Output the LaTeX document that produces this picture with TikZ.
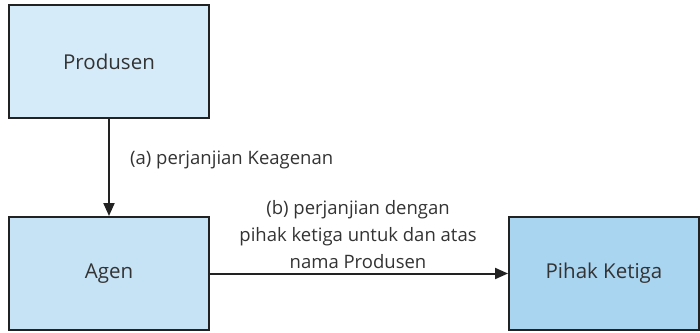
\documentclass[tikz,border=0pt]{standalone}
\usepackage{fontspec}
\setmainfont{Open Sans}
\usetikzlibrary{arrows.meta}
\definecolor{boxA}{HTML}{D6EBF9}
\definecolor{boxB}{HTML}{C6E3F6}
\definecolor{boxC}{HTML}{A9D5F1}
\definecolor{edge}{HTML}{222222}
\definecolor{txt}{HTML}{333333}
\tikzset{
  box/.style={draw=edge, line width=2pt, minimum width=#1, minimum height=113pt, inner sep=0pt, text=txt, font=\fontsize{20.5}{24}\selectfont},
  conn/.style={draw=edge, line width=2pt, -{Triangle[length=13pt,width=11pt]}},
  lbl/.style={text=txt, font=\fontsize{18.5}{27}\selectfont, align=center, inner sep=0pt}
}
\begin{document}
\begin{tikzpicture}[x=1pt,y=-1pt]
\useasboundingbox (0,0) rectangle (700,332);
\node[box=200pt, fill=boxA] (prod) at (109,61.5) {Produsen};
\node[box=200pt, fill=boxB] (agen) at (109,273.5) {Agen};
\node[box=190pt, fill=boxC] (pihak) at (604,273.5) {Pihak Ketiga};
\draw[conn] (prod) -- (agen);
\draw[conn] (agen) -- (pihak);
\node[lbl, anchor=west] (la) at (130,160) {(a) perjanjian Keagenan};
\node[lbl, anchor=south] (lb) at (358,269) {(b) perjanjian dengan\\pihak ketiga untuk dan atas\\nama Produsen};
\end{tikzpicture}
\end{document}
